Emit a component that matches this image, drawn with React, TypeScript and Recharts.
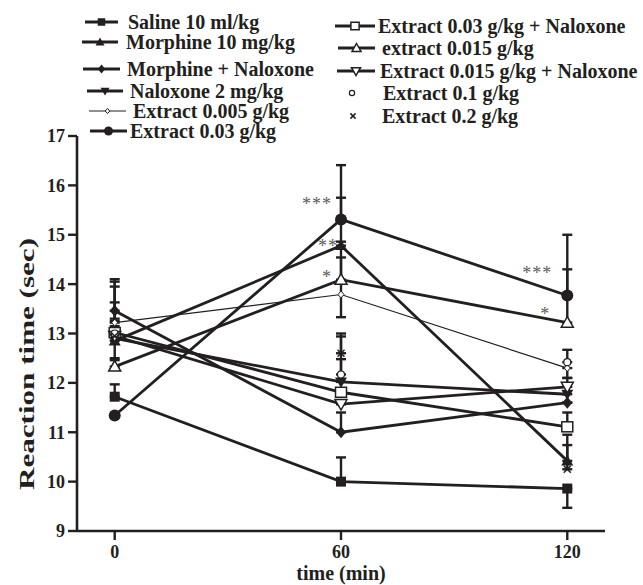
import React from 'react';
import { LineChart, Line, XAxis, YAxis, ErrorBar, LabelList } from 'recharts';

const INK = '#231f20';
const FONT = '"Liberation Serif", "Times New Roman", serif';

const times = [0, 60, 120];
const yTicks = [9, 10, 11, 12, 13, 14, 15, 16, 17];
const xTicks = [0, 60, 120];

const seriesNames = [
  'Saline 10 ml/kg',
  'Morphine 10 mg/kg',
  'Morphine + Naloxone',
  'Naloxone 2 mg/kg',
  'Extract 0.005 g/kg',
  'Extract 0.03 g/kg',
  'Extract 0.03 g/kg + Naloxone',
  'extract 0.015 g/kg',
  'Extract 0.015 g/kg + Naloxone',
  'Extract 0.1 g/kg',
  'Extract 0.2 g/kg',
];

// mean reaction time (sec) at 0, 60, 120 min
const saline = [11.72, 10.0, 9.86];
const morphine = [12.85, 14.78, 10.42];
const morphNal = [13.46, 11.0, 11.6];
const naloxone = [12.9, 12.02, 11.77];
const ext005 = [13.22, 13.79, 12.3];
const ext003 = [11.34, 15.31, 13.77];
const ext003Nal = [13.02, 11.81, 11.11];
const ext0015 = [12.33, 14.09, 13.22];
const ext0015Nal = [12.95, 11.57, 11.92];
const ext01 = [13.0, 12.17, 12.42];
const ext02 = [12.95, 12.6, 10.25];

// error bars as [below, above]
const salineErr = [[0, 0.25], [0, 0.49], [0.39, 0]];
const morphineErr = [[0, 1.2], [0, 0.97], [0, 0.53]];
const morphNalErr = [[0, 0.64], [0, 0.4], [0, 0]];
const naloxoneErr = [[0, 0.4], [0, 0.46], [0, 0.21]];
const ext005Err = [[0, 0.41], [0.46, 1.07], [0.2, 0]];
const ext003Err = [[0, 0], [0, 1.1], [0, 1.23]];
const ext003NalErr = [[0, 0.93], [0, 0], [0, 0.29]];
const ext0015Err = [[0, 0.17], [0, 0.45], [0, 1.08]];
const ext0015NalErr = [[0, 0.3], [0, 0], [0, 0.18]];
const ext01Err = [[0.54, 0], [0, 0.77], [0, 0.25]];
const ext02Err = [[0, 0.2], [0, 0.4], [0, 0.49]];

// significance marks: series index -> { time index: text }
const stars: Record<number, Record<number, string>> = {
  1: { 1: '**' },
  5: { 1: '***', 2: '***' },
  7: { 1: '*', 2: '*' },
};

const values = [saline, morphine, morphNal, naloxone, ext005, ext003, ext003Nal, ext0015, ext0015Nal, ext01, ext02];
const errors = [salineErr, morphineErr, morphNalErr, naloxoneErr, ext005Err, ext003Err, ext003NalErr, ext0015Err, ext0015NalErr, ext01Err, ext02Err];

// drawing style per series
const markers = ['square', 'triangle', 'diamond', 'invTriangle', 'smallDiamond', 'circle', 'openSquare', 'openTriangle', 'openInvTriangle', 'openCircle', 'cross'];
const lineWidths = [2.8, 2.8, 2.8, 2.8, 1.2, 2.8, 2.8, 2.8, 2.8, 0, 0];

// star offsets from the point
const starOffset: Record<string, { dx: number; dy: number }> = {
  '1-1': { dx: -13, dy: -2 },
  '5-1': { dx: -24, dy: -17 },
  '5-2': { dx: -30, dy: -24 },
  '7-1': { dx: -14, dy: -5 },
  '7-2': { dx: -22, dy: -11 },
};

const legendLayout = [
  { y: 22, x1: 85, x2: 118, tx: 128 },
  { y: 42, x1: 82, x2: 118, tx: 126 },
  { y: 69, x1: 83, x2: 120, tx: 127 },
  { y: 91, x1: 87, x2: 123, tx: 130 },
  { y: 111, x1: 89, x2: 126, tx: 133 },
  { y: 131, x1: 90, x2: 127, tx: 130 },
  { y: 26, x1: 335, x2: 375, tx: 378 },
  { y: 48, x1: 338, x2: 375, tx: 382 },
  { y: 71, x1: 337, x2: 375, tx: 380 },
  { y: 93, x1: 352, x2: 352, tx: 383 },
  { y: 116, x1: 353, x2: 353, tx: 382 },
];

const data = times.map((t, i) => {
  const row: Record<string, any> = { time: t };
  values.forEach((v, k) => {
    row['v' + k] = v[i];
    row['e' + k] = errors[k][i];
  });
  return row;
});

const Marker = ({ type, cx, cy, s = 1 }: { type: string; cx: number; cy: number; s?: number }) => {
  const open = { fill: '#fff', stroke: INK, strokeWidth: 1.5 };
  switch (type) {
    case 'square':
      return <rect x={cx - 5 * s} y={cy - 5 * s} width={10 * s} height={10 * s} fill={INK} />;
    case 'openSquare':
      return <rect x={cx - 5.5 * s} y={cy - 5 * s} width={11 * s} height={10 * s} {...open} />;
    case 'triangle':
      return <polygon points={`${cx},${cy - 6 * s} ${cx + 6 * s},${cy + 4.5 * s} ${cx - 6 * s},${cy + 4.5 * s}`} fill={INK} />;
    case 'openTriangle':
      return <polygon points={`${cx},${cy - 6 * s} ${cx + 6 * s},${cy + 4.5 * s} ${cx - 6 * s},${cy + 4.5 * s}`} {...open} />;
    case 'invTriangle':
      return <polygon points={`${cx - 6 * s},${cy - 4.5 * s} ${cx + 6 * s},${cy - 4.5 * s} ${cx},${cy + 6 * s}`} fill={INK} />;
    case 'openInvTriangle':
      return <polygon points={`${cx - 6 * s},${cy - 4.5 * s} ${cx + 6 * s},${cy - 4.5 * s} ${cx},${cy + 6 * s}`} {...open} />;
    case 'diamond':
      return <polygon points={`${cx},${cy - 6 * s} ${cx + 5 * s},${cy} ${cx},${cy + 6 * s} ${cx - 5 * s},${cy}`} fill={INK} />;
    case 'smallDiamond':
      return <polygon points={`${cx},${cy - 3.5 * s} ${cx + 3 * s},${cy} ${cx},${cy + 3.5 * s} ${cx - 3 * s},${cy}`} fill="#fff" stroke={INK} strokeWidth={1} />;
    case 'circle':
      return <circle cx={cx} cy={cy} r={6 * s} fill={INK} />;
    case 'openCircle':
      return <circle cx={cx} cy={cy} r={3.5 * s} fill="#fff" stroke={INK} strokeWidth={1.2} />;
    case 'cross':
      return (
        <g stroke={INK} strokeWidth={1.5}>
          <line x1={cx - 3.5 * s} y1={cy - 3.5 * s} x2={cx + 3.5 * s} y2={cy + 3.5 * s} />
          <line x1={cx - 3.5 * s} y1={cy + 3.5 * s} x2={cx + 3.5 * s} y2={cy - 3.5 * s} />
        </g>
      );
    default:
      return null;
  }
};

const renderStar = (k: number) => (p: any) => {
  const marks = stars[k];
  if (!marks || marks[p.index] === undefined) return null;
  const off = starOffset[`${k}-${p.index}`];
  const x = p.x ?? p.viewBox?.x;
  const y = p.y ?? p.viewBox?.y;
  return (
    <text x={x + off.dx} y={y + off.dy + 8} textAnchor="middle" fontFamily={FONT} fontSize={18} fill="#5a5a5a" letterSpacing={1}>
      {marks[p.index]}
    </text>
  );
};

const Legend = () => (
  <svg width={643} height={150} style={{ position: 'absolute', left: 0, top: 0 }}>
    {seriesNames.map((name, k) => {
      const l = legendLayout[k];
      const mid = (l.x1 + l.x2) / 2;
      return (
        <g key={name}>
          {lineWidths[k] > 0 && (
            <line x1={l.x1} x2={l.x2} y1={l.y} y2={l.y} stroke={INK} strokeWidth={lineWidths[k]} />
          )}
          <Marker type={markers[k]} cx={mid} cy={l.y} s={0.75} />
          <text x={l.tx} y={l.y + 7} fontFamily={FONT} fontWeight="bold" fontSize={20} fill={INK}>
            {name}
          </text>
        </g>
      );
    })}
  </svg>
);

const tickStyle = { fill: INK, fontSize: 18, fontWeight: 'bold', fontFamily: FONT };

export default function App() {
  return (
    <div style={{ position: 'absolute', left: 0, top: 0, width: 643, height: 585, background: '#fff' }}>
      <LineChart width={643} height={585} data={data} margin={{ top: 136, right: 38, left: 0, bottom: 2 }}>
        <XAxis
          dataKey="time"
          type="number"
          domain={[-10, 130]}
          ticks={xTicks}
          height={52}
          tickSize={9}
          tickMargin={5}
          tick={tickStyle}
          axisLine={{ stroke: INK, strokeWidth: 2.6 }}
          tickLine={{ stroke: INK, strokeWidth: 2.4 }}
          label={{
            content: () => (
              <text x={341} y={580} textAnchor="middle" fontFamily={FONT} fontWeight="bold" fontSize={20} fill={INK}>
                time (min)
              </text>
            ),
          }}
        />
        <YAxis
          type="number"
          domain={[9, 17]}
          ticks={yTicks}
          width={77}
          tickSize={9}
          tickMargin={3}
          tick={tickStyle}
          axisLine={{ stroke: INK, strokeWidth: 2.6 }}
          tickLine={{ stroke: INK, strokeWidth: 2.4 }}
          label={{
            content: () => (
              <text
                x={34}
                y={364}
                transform="rotate(-90 34 364)"
                textAnchor="middle"
                fontFamily={FONT}
                fontWeight="bold"
                fontSize={21}
                fill={INK}
                textLength={252}
                lengthAdjust="spacingAndGlyphs"
              >
                Reaction time (sec)
              </text>
            ),
          }}
        />
        {values.map((_, k) => (
          <Line
            key={k}
            dataKey={'v' + k}
            name={seriesNames[k]}
            type="linear"
            stroke={lineWidths[k] > 0 ? INK : 'none'}
            strokeWidth={lineWidths[k]}
            isAnimationActive={false}
            activeDot={false}
            dot={(p: any) => (
              <g key={`d${k}-${p.index}`}>
                <Marker type={markers[k]} cx={p.cx} cy={p.cy} />
              </g>
            )}
          >
            <ErrorBar dataKey={'e' + k} width={5} stroke={INK} strokeWidth={2.4} direction="y" />
            {stars[k] && <LabelList dataKey={'v' + k} content={renderStar(k)} />}
          </Line>
        ))}
      </LineChart>
      <Legend />
    </div>
  );
}
